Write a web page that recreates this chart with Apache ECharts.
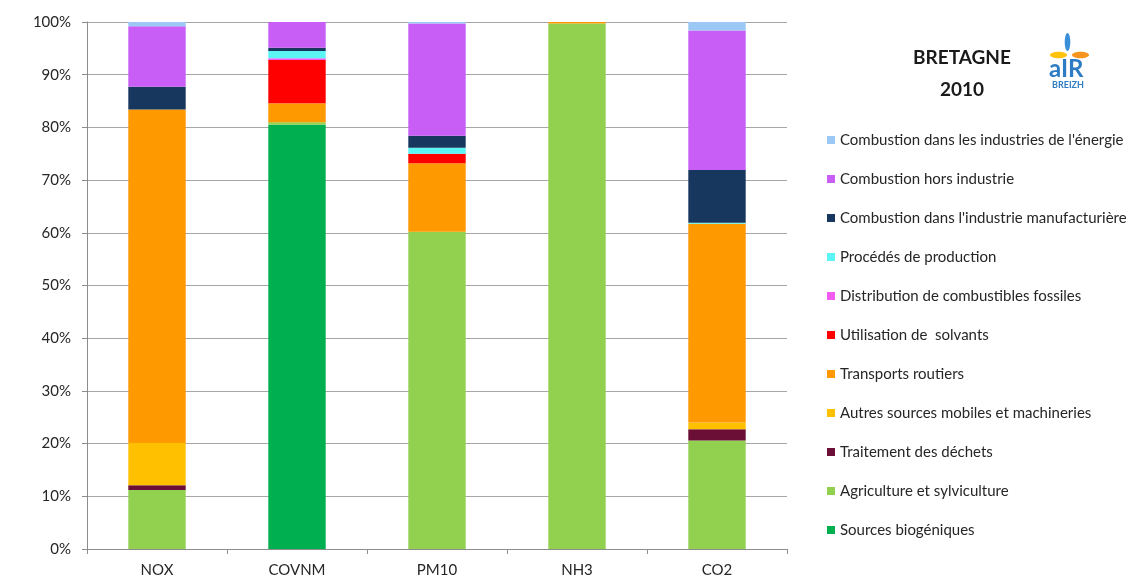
<!DOCTYPE html>
<html>
<head>
<meta charset="utf-8">
<script src="https://cdn.jsdelivr.net/npm/echarts@6/dist/echarts.min.js"></script>
<style>
  html, body { margin: 0; padding: 0; background: #fff; }
  #chart { width: 1131px; height: 583px; }
</style>
</head>
<body>
<div id="chart"></div>
<script>
// polluants (axe des x)
var categories = ['NOX', 'COVNM', 'PM10', 'NH3', 'CO2'];

// parts par secteur, en %, empilées du bas vers le haut
var biogeniques  = [0,    80.5, 0,    0,    0];
var agriculture  = [11.2, 0.5,  60.2, 99.7, 20.6];
var dechets      = [0.9,  0,    0,    0,    2.1];
var autresMobiles = [8.0, 0,    0,    0,    1.3];
var transports   = [63.3, 3.6,  13.0, 0.3,  37.7];
var solvants     = [0,    8.2,  1.8,  0,    0];
var distribution = [0,    0.3,  0,    0,    0];
var procedes     = [0,    1.4,  1.15, 0,    0.2];
var industrieManuf = [4.3, 0.6, 2.25, 0,    10.0];
var horsIndustrie = [11.5, 4.9, 21.3, 0,    26.5];
var energie      = [0.8,  0,    0.3,  0,    1.6];

var yTicks = [0, 10, 20, 30, 40, 50, 60, 70, 80, 90, 100];

var secteurs = [
  { name: 'Sources biogéniques', data: biogeniques, color: '#00B050' },
  { name: 'Agriculture et sylviculture', data: agriculture, color: '#92D050' },
  { name: 'Traitement des déchets', data: dechets, color: '#6B0F37' },
  { name: 'Autres sources mobiles et machineries', data: autresMobiles, color: '#FFC000' },
  { name: 'Transports routiers', data: transports, color: '#FF9900' },
  { name: 'Utilisation de  solvants', data: solvants, color: '#FF0000' },
  { name: 'Distribution de combustibles fossiles', data: distribution, color: '#F25CF0' },
  { name: 'Procédés de production', data: procedes, color: '#5CF5F5' },
  { name: "Combustion dans l'industrie manufacturière", data: industrieManuf, color: '#17375E' },
  { name: 'Combustion hors industrie', data: horsIndustrie, color: '#C85EF5' },
  { name: "Combustion dans les industries de l'énergie", data: energie, color: '#9BC8F5' }
];

var font = 'Lato, "Liberation Sans", sans-serif';
var chart = echarts.init(document.getElementById('chart'));

var series = secteurs.map(function (s) {
  return {
    name: s.name,
    type: 'bar',
    stack: 'total',
    barWidth: '41%',
    data: s.data,
    itemStyle: { color: s.color },
    emphasis: { disabled: true }
  };
});

chart.setOption({
  animation: false,
  textStyle: { fontFamily: font },
  grid: { left: 87, right: 344, top: 22, bottom: 34, containLabel: false },
  legend: {
    orient: 'vertical',
    left: 822,
    top: 125,
    icon: 'rect',
    itemWidth: 8,
    itemHeight: 8,
    itemGap: 19,
    textStyle: { fontFamily: font, fontSize: 15, color: '#262626', lineHeight: 20 },
    data: secteurs.map(function (s) { return s.name; }).reverse()
  },
  xAxis: {
    type: 'category',
    data: categories,
    axisLine: { lineStyle: { color: '#8C8C8C', width: 1 } },
    axisTick: { show: true, length: 5, lineStyle: { color: '#8C8C8C' } },
    axisLabel: { fontFamily: font, fontSize: 15, color: '#262626', margin: 14 }
  },
  yAxis: {
    type: 'value',
    min: 0,
    max: 100,
    interval: 10,
    axisLine: { show: true, lineStyle: { color: '#8C8C8C', width: 1 } },
    axisTick: { show: true, length: 5, lineStyle: { color: '#8C8C8C' } },
    axisLabel: {
      fontFamily: font, fontSize: 15, color: '#262626', margin: 16,
      formatter: function (v) { return yTicks.indexOf(v) >= 0 ? v + '%' : ''; }
    },
    splitLine: { show: true, lineStyle: { color: '#A6A6A6', width: 1 } }
  },
  graphic: [
    {
      type: 'text',
      x: 962,
      y: 42,
      style: {
        text: 'BRETAGNE\n2010',
        align: 'center',
        verticalAlign: 'top',
        fill: '#1a1a1a',
        font: 'bold 19px ' + font,
        lineHeight: 32
      }
    },
    // logo Air Breizh
    { type: 'ellipse', shape: { cx: 1067.5, cy: 42, rx: 2.8, ry: 9 }, style: { fill: '#3A8FD9' } },
    { type: 'ellipse', shape: { cx: 1058.5, cy: 55, rx: 8.5, ry: 3.2 }, style: { fill: '#FFC20E' } },
    { type: 'ellipse', shape: { cx: 1080.5, cy: 55, rx: 8.5, ry: 3.2 }, style: { fill: '#F7941D' } },
    {
      type: 'text', left: 1049, top: 57,
      style: { text: 'aIR', fill: '#2E7CC4', font: 'bold 24px ' + font }
    },
    {
      type: 'text', left: 1052, top: 81,
      style: { text: 'BREIZH', fill: '#2E7CC4', font: 'bold 9px ' + font }
    }
  ],
  series: series
});
</script>
</body>
</html>
